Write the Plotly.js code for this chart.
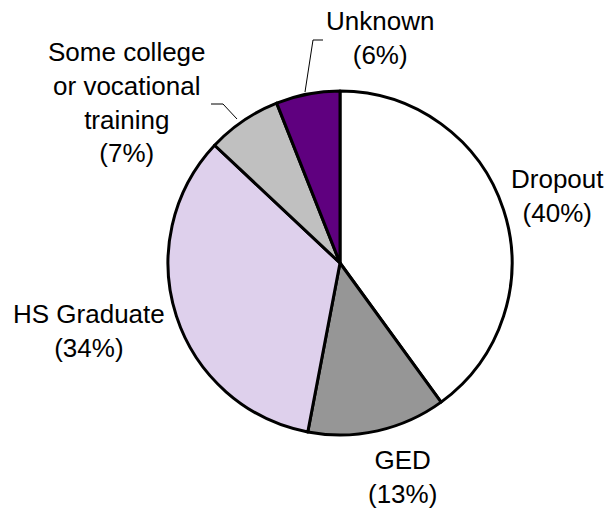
<!DOCTYPE html>
<html>
<head>
<meta charset="utf-8">
<script src="https://cdn.plot.ly/plotly-3.0.1.min.js"></script>
<style>html,body{margin:0;padding:0;background:#fff;}#chart{width:608px;height:512px;}</style>
</head>
<body>
<div id="chart"></div>
<script>
// Data
const categories = ['Dropout', 'GED', 'HS Graduate', 'Some college<br>or vocational<br>training', 'Unknown'];
const shares = [40, 13, 34, 7, 6];

// Styles / layout (positions in pixels of the 608x512 page)
const W = 608, H = 512;
const sliceColors = ['#ffffff', '#969696', '#e8dcf0', '#c0c0c0', '#5f007f'];
const labelPos = [ [557, 196], [402, 477], [89, 331], [127, 102], [380, 38] ];
const leaderLines = [
  [[211, 104], [223, 104], [237, 119]],
  [[323, 40], [313, 40], [305, 92]]
];
const px = x => x / W, py = y => 1 - y / H;

const trace = {
  type: 'pie',
  values: shares,
  labels: categories,
  sort: false,
  direction: 'clockwise',
  rotation: 0,
  textinfo: 'none',
  hoverinfo: 'label+percent',
  showlegend: false,
  domain: {x: [px(168), px(512)], y: [py(435), py(91)]},
  marker: {
    colors: sliceColors,
    line: {color: '#000000', width: 3},
    pattern: {
      shape: ['', '', '.', '', ''],
      fgcolor: ['#000', '#000', '#c0a4da', '#000', '#000'],
      bgcolor: ['', '', '#f7f3fb', '', ''],
      size: 2,
      solidity: 0.5
    }
  }
};

const annotations = categories.map((c, i) => ({
  text: c + '<br>(' + shares[i] + '%)',
  x: px(labelPos[i][0]), y: py(labelPos[i][1]),
  xref: 'paper', yref: 'paper',
  xanchor: 'center', yanchor: 'middle',
  showarrow: false,
  align: 'center',
  font: {family: 'Liberation Sans, Arial, sans-serif', size: 26, color: '#000'}
}));

const shapes = leaderLines.map(pts => ({
  type: 'path',
  xref: 'paper', yref: 'paper',
  path: pts.map((p, k) => (k ? 'L' : 'M') + px(p[0]) + ',' + py(p[1])).join(' '),
  line: {color: '#000', width: 1}
}));

const layout = {
  width: W, height: H,
  margin: {l: 0, r: 0, t: 0, b: 0},
  paper_bgcolor: '#ffffff',
  plot_bgcolor: '#ffffff',
  annotations: annotations,
  shapes: shapes
};

Plotly.newPlot('chart', [trace], layout, {displayModeBar: false, staticPlot: true});
</script>
</body>
</html>
